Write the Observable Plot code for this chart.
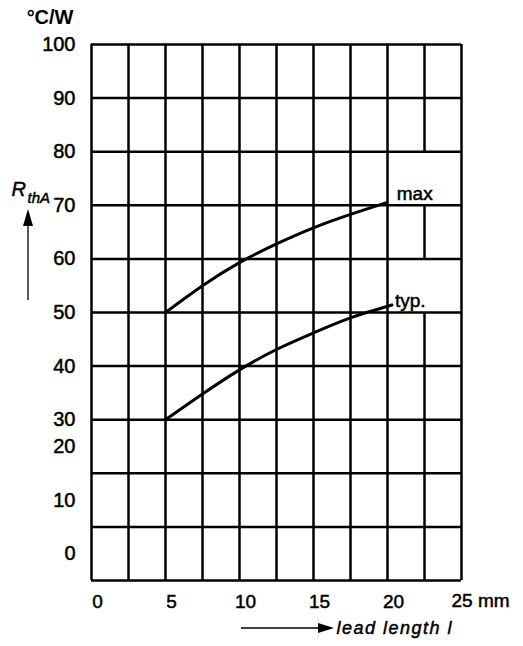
<!DOCTYPE html>
<html><head><meta charset="utf-8">
<script src="https://cdn.jsdelivr.net/npm/d3@7"></script>
<script src="https://cdn.jsdelivr.net/npm/@observablehq/plot@0.6"></script>
<style>
body{margin:0;background:#fff;}
#chart svg{font-family:"Liberation Sans",Arial,sans-serif;}
</style>
</head><body><div id="chart"></div>
<script>
// Curve data (lead length in mm, R_thA in °C/W)
const maxLength = [5, 7.5, 10, 12.5, 15, 17.5, 19.95];
const maxRth    = [50, 55.0, 59.3, 62.8, 65.8, 68.3, 70.5];
const typLength = [5, 7.5, 10, 12.5, 15, 17.5, 20.3];
const typRth    = [30, 34.8, 39.3, 43.1, 46.2, 49.0, 51.4];

// Axis ticks / labels (as printed in the original)
const xTickValues = [0, 5, 10, 15, 20];
const xTickLabels = ["0", "5", "10", "15", "20"];
const xUnitLabel  = "25 mm";
const yTickValues = [100, 90, 80, 70, 60, 50, 40, 30, 25, 15, 5];
const yTickLabels = ["100", "90", "80", "70", "60", "50", "40", "30", "20", "10", "0"];

// Grid
const xGridLines = [0, 2.5, 5, 7.5, 10, 12.5, 15, 17.5, 20];
const xGridSplit = 22.5;               // line interrupted where the curve labels sit
const xGridSplitSegments = [[0, 50], [60, 70], [80, 100]];
const xGridEnd = 25;
const yGridLines = [0, 10, 20, 30, 40, 50, 60, 70, 80, 90, 100];

const maxData = maxLength.map((x, i) => ({x, y: maxRth[i]}));
const typData = typLength.map((x, i) => ({x, y: typRth[i]}));
const splitSegs = xGridSplitSegments.map(([a, b]) => ({x: xGridSplit, y1: a, y2: b}));

const W = 523, H = 646;
const fs = 19;
const ink = {fill: "#000", stroke: "#000", strokeWidth: 0.5};

const plot = Plot.plot({
  width: W, height: H,
  marginLeft: 91, marginRight: 62, marginTop: 44, marginBottom: 66,
  x: {domain: [0, 25], axis: null},
  y: {domain: [0, 100], axis: null},
  style: {fontFamily: "Liberation Sans, Arial, sans-serif", background: "#fff"},
  marks: [
    Plot.ruleY(yGridLines, {stroke: "#000", strokeWidth: 2.5}),
    Plot.ruleX([...xGridLines, xGridEnd], {stroke: "#000", strokeWidth: 2.5}),
    Plot.ruleX(splitSegs, {x: "x", y1: "y1", y2: "y2", stroke: "#000", strokeWidth: 2.5}),
    Plot.line(maxData, {x: "x", y: "y", curve: "natural", stroke: "#000", strokeWidth: 3}),
    Plot.line(typData, {x: "x", y: "y", curve: "natural", stroke: "#000", strokeWidth: 3}),
    Plot.text([maxData[maxData.length - 1]], {x: "x", y: "y", text: () => "max", textAnchor: "start", dx: 10, dy: -9, fontSize: fs, ...ink}),
    Plot.text([typData[typData.length - 1]], {x: "x", y: "y", text: () => "typ.", textAnchor: "start", dx: 3, dy: -4, fontSize: fs, ...ink}),
    // y tick labels
    Plot.text(yTickValues, {x: 0, y: d => d, text: (d, i) => yTickLabels[i], textAnchor: "end", dx: -16, fontSize: fs + 1, ...ink}),
    // x tick labels
    Plot.text(xTickValues, {x: d => d, y: 0, text: (d, i) => xTickLabels[i], textAnchor: "middle", dx: 6, dy: 21, fontSize: fs, ...ink}),
    Plot.text([xGridEnd], {x: d => d, y: 0, text: () => xUnitLabel, textAnchor: "start", dx: -10, dy: 20, fontSize: fs, ...ink}),
    // unit
    Plot.text(["°C/W"], {frameAnchor: "top-left", lineAnchor: "middle", textAnchor: "end", dx: -18, dy: -27, fontSize: fs + 1, fontWeight: "bold", fill: "#000"}),
    // R_thA label
    Plot.text(["R"], {frameAnchor: "top-left", lineAnchor: "middle", textAnchor: "start", dx: -80, dy: 145, fontSize: fs + 1, fontStyle: "italic", ...ink}),
    Plot.text(["thA"], {frameAnchor: "top-left", lineAnchor: "middle", textAnchor: "start", dx: -64, dy: 154, fontSize: 15, fontStyle: "italic", ...ink}),
    // x title
    Plot.text(["lead length l"], {frameAnchor: "bottom-left", lineAnchor: "middle", textAnchor: "start", dx: 245, dy: 48, fontSize: 18, fontStyle: "italic", ...ink})
  ]
});

const svg = d3.select(plot);
svg.selectAll("text").filter(function () { return this.textContent === "lead length l"; })
  .attr("letter-spacing", 1.5);

// decorative arrows
const g = svg.append("g").attr("fill", "#000").attr("stroke", "#000");
g.append("line").attr("x1", 28).attr("x2", 28).attr("y1", 300).attr("y2", 222).attr("stroke-width", 1.3);
g.append("path").attr("d", "M23,226L33,226L28,209Z").attr("stroke", "none");
g.append("line").attr("x1", 241).attr("x2", 320).attr("y1", 628).attr("y2", 628).attr("stroke-width", 1.3);
g.append("path").attr("d", "M318,623L318,633L334,628Z").attr("stroke", "none");

document.getElementById("chart").appendChild(plot);
</script>
</body></html>
